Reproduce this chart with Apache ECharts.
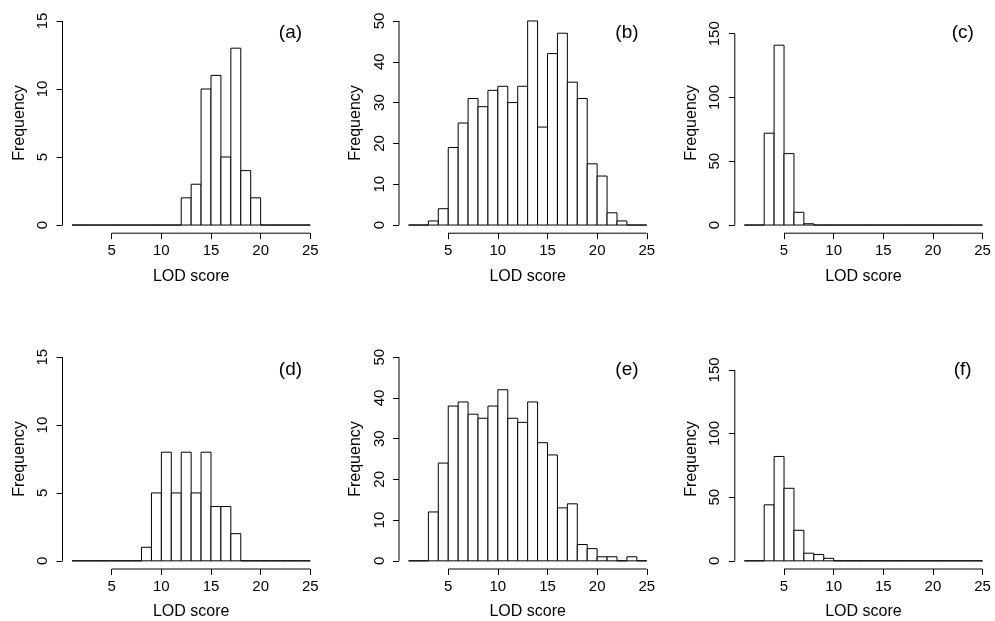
<!DOCTYPE html>
<html><head><meta charset="utf-8">
<script src="https://cdn.jsdelivr.net/npm/echarts@6/dist/echarts.min.js"></script>
<style>html,body{margin:0;padding:0;background:#fff}#chart{width:995px;height:621px}</style>
</head><body><div id="chart"></div>
<script>
// Histogram breaks 1..25 (bin width 1)
const breaks = [1,2,3,4,5,6,7,8,9,10,11,12,13,14,15,16,17,18,19,20,21,22,23,24,25];
const countsA = [0,0,0,0,0,0,0,0,0,0,0,2,3,10,11,5,13,4,2,0,0,0,0,0];
const countsB = [0,0,1,4,19,25,31,29,33,34,30,34,50,24,42,47,35,31,15,12,3,1,0,0];
const countsC = [0,0,72,141,56,10,1,0,0,0,0,0,0,0,0,0,0,0,0,0,0,0,0,0];
const countsD = [0,0,0,0,0,0,0,1,5,8,5,8,5,8,4,4,2,0,0,0,0,0,0,0];
const countsE = [0,0,12,24,38,39,36,35,38,42,35,34,39,29,26,13,14,4,3,1,1,0,1,0];
const countsF = [0,0,44,82,57,24,6,5,2,0,0,0,0,0,0,0,0,0,0,0,0,0,0,0];
const panelLabels = ['(a)','(b)','(c)','(d)','(e)','(f)'];
const yLimits = [15,50,160,15,50,160];
const yTicksA = [0,5,10,15];
const yTicksB = [0,10,20,30,40,50];
const yTicksC = [0,50,100,150];
const xTicks = [5,10,15,20,25];
const xTitle = 'LOD score';
const yTitle = 'Frequency';

const allCounts = [countsA,countsB,countsC,countsD,countsE,countsF];
const allYTicks = [yTicksA,yTicksB,yTicksC,yTicksA,yTicksB,yTicksC];

const lefts = [62.5, 399, 734.8];
const tops = [12.8, 349];
const gw = 257.3, gh = 220.4;
const FONT = 'Liberation Sans, Arial, Helvetica, sans-serif';

const xlo = breaks[0] - 0.04*(breaks[breaks.length-1]-breaks[0]);
const xhi = breaks[breaks.length-1] + 0.04*(breaks[breaks.length-1]-breaks[0]);

const grids=[], xAxes=[], yAxes=[], series=[];
for (let i=0;i<6;i++){
  const col=i%3, row=Math.floor(i/3);
  const ylim=yLimits[i];
  const ymin=-0.04*ylim, ymax=1.04*ylim;
  grids.push({left:lefts[col], top:tops[row], width:gw, height:gh, containLabel:false});
  xAxes.push({
    type:'value', gridIndex:i, min:xlo, max:xhi, position:'bottom',
    axisLine:{show:false,onZero:false}, splitLine:{show:false},
    axisTick:{show:true, length:6, customValues:xTicks, lineStyle:{color:'#000',width:1}},
    axisLabel:{show:true, customValues:xTicks, color:'#000', fontSize:15, fontFamily:FONT, margin:10},
    name:xTitle, nameLocation:'middle', nameGap:35,
    nameTextStyle:{color:'#000', fontSize:16, fontFamily:FONT}
  });
  const yt=allYTicks[i];
  yAxes.push({
    type:'value', gridIndex:i, min:ymin, max:ymax,
    axisLine:{show:false,onZero:false}, splitLine:{show:false},
    axisTick:{show:true, length:6, customValues:yt, lineStyle:{color:'#000',width:1}},
    axisLabel:{show:true, customValues:yt, rotate:90, color:'#000', fontSize:15, fontFamily:FONT, margin:12},
    name:yTitle, nameLocation:'middle', nameGap:35, nameRotate:90,
    nameTextStyle:{color:'#000', fontSize:16, fontFamily:FONT}
  });
  const data = allCounts[i].map((c,j)=>[breaks[j], breaks[j+1], c]);
  series.push({
    type:'custom', xAxisIndex:i, yAxisIndex:i, clip:false, silent:true,
    encode:{x:[0,1], y:2},
    data:data,
    renderItem:function(params, api){
      const p0=api.coord([api.value(0),0]);
      const p1=api.coord([api.value(1),api.value(2)]);
      return {type:'rect', shape:{x:p0[0], y:p1[1], width:p1[0]-p0[0], height:p0[1]-p1[1]},
        style:{fill:'#fff', stroke:'#000', lineWidth:1}};
    }
  });
  // axis lines (R style: spanning first to last tick)
  const axData=[[xTicks[0], ymin, xTicks[xTicks.length-1], ymin],
                [xlo, yt[0], xlo, yt[yt.length-1]]];
  series.push({
    type:'custom', xAxisIndex:i, yAxisIndex:i, clip:false, silent:true,
    data:axData,
    renderItem:function(params, api){
      const a=api.coord([api.value(0),api.value(1)]);
      const b=api.coord([api.value(2),api.value(3)]);
      return {type:'line', shape:{x1:a[0],y1:a[1],x2:b[0],y2:b[1]}, style:{stroke:'#000', lineWidth:1}};
    }
  });
  const lab=panelLabels[i];
  series.push({
    type:'custom', xAxisIndex:i, yAxisIndex:i, clip:false, silent:true,
    data:[[23, 0.94*ylim]],
    renderItem:function(params, api){
      const p=api.coord([api.value(0),api.value(1)]);
      return {type:'text', x:p[0], y:p[1], style:{text:lab, fill:'#000', fontSize:19, fontFamily:FONT, align:'center', verticalAlign:'middle'}};
    }
  });
}

const chart = echarts.init(document.getElementById('chart'), null, {renderer:'canvas'});
chart.setOption({animation:false, backgroundColor:'#fff', grid:grids, xAxis:xAxes, yAxis:yAxes, series:series});
</script></body></html>
